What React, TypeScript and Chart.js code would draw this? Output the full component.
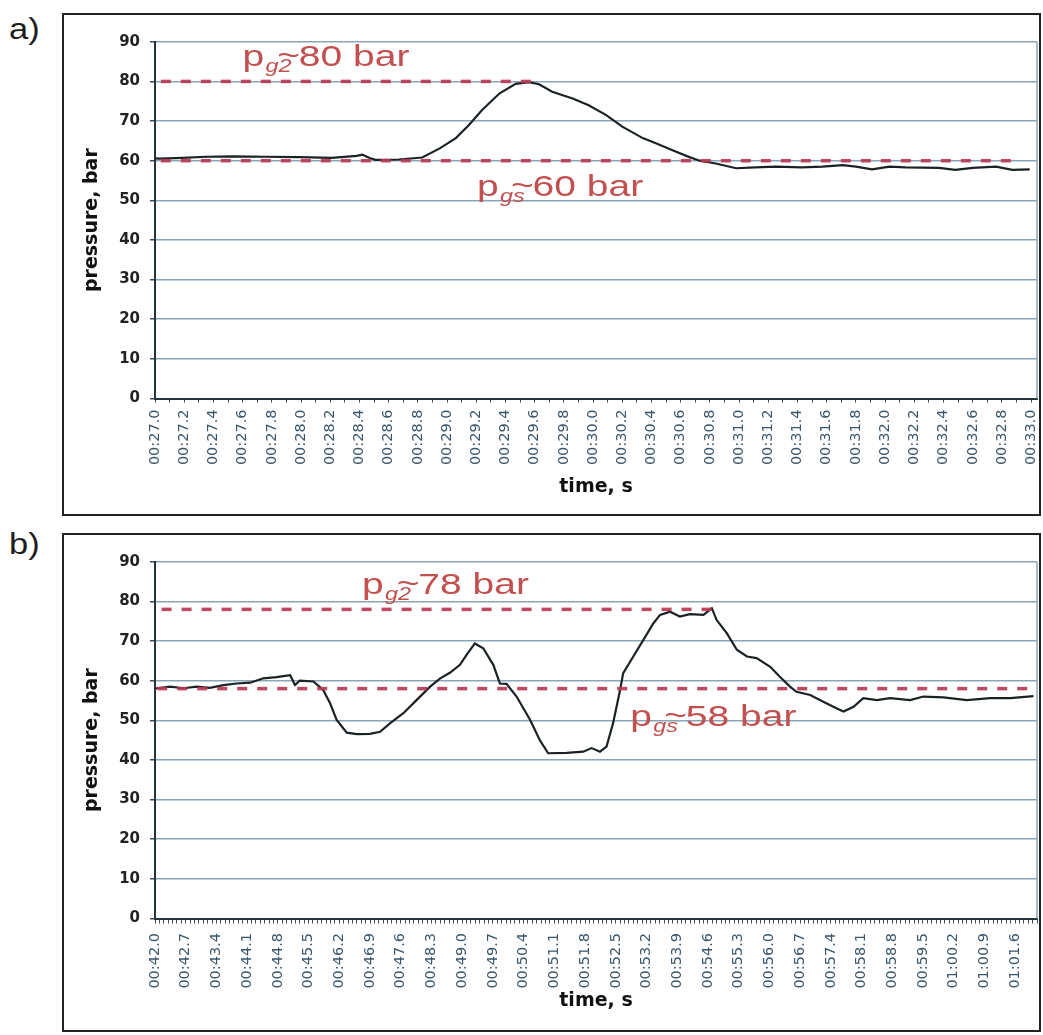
import React, { useEffect, useRef } from 'react';
import { Chart, registerables } from 'chart.js';

Chart.register(...registerables);

// ---------- Panel a) ----------
const TIME_A = [27.0, 27.03, 27.19, 27.35, 27.53, 27.76, 27.99, 28.21, 28.38, 28.42, 28.47, 28.51, 28.67, 28.83, 28.95, 29.06, 29.15, 29.24, 29.36, 29.47, 29.56, 29.63, 29.72, 29.86, 29.97, 30.09, 30.2, 30.34, 30.43, 30.54, 30.66, 30.73, 30.84, 30.98, 31.11, 31.25, 31.43, 31.57, 31.71, 31.8, 31.91, 32.03, 32.14, 32.37, 32.48, 32.6, 32.76, 32.87, 32.99];
const PRESSURE_A = [60.6, 60.5, 60.7, 61.0, 61.1, 61.0, 60.9, 60.7, 61.2, 61.5, 60.7, 60.2, 60.3, 60.8, 63.1, 65.7, 69.0, 72.8, 77.0, 79.4, 79.8, 79.3, 77.4, 75.7, 74.0, 71.5, 68.6, 65.7, 64.4, 62.7, 60.9, 60.0, 59.3, 58.1, 58.3, 58.5, 58.3, 58.5, 58.9, 58.5, 57.8, 58.5, 58.3, 58.2, 57.7, 58.2, 58.5, 57.7, 57.8];
const LABELS_A = ['00:27.0', '00:27.2', '00:27.4', '00:27.6', '00:27.8', '00:28.0', '00:28.2', '00:28.4', '00:28.6', '00:28.8', '00:29.0', '00:29.2', '00:29.4', '00:29.6', '00:29.8', '00:30.0', '00:30.2', '00:30.4', '00:30.6', '00:30.8', '00:31.0', '00:31.2', '00:31.4', '00:31.6', '00:31.8', '00:32.0', '00:32.2', '00:32.4', '00:32.6', '00:32.8', '00:33.0'];
const LEVELS_A = [80, 60];
const LEVEL_START_A = [27.04, 27.04];
const LEVEL_END_A = [29.6, 32.9];
const LEVEL_SUB_A = ['g2', 'gs'];
const LEVEL_TEXT_A = ['80 bar', '60 bar'];

// ---------- Panel b) ----------
const TIME_B = [42.0, 42.04, 42.34, 42.65, 42.95, 43.25, 43.56, 43.86, 44.17, 44.47, 44.77, 45.08, 45.19, 45.3, 45.61, 45.83, 45.99, 46.14, 46.37, 46.6, 46.9, 47.13, 47.36, 47.66, 47.96, 48.27, 48.5, 48.72, 48.95, 49.1, 49.29, 49.48, 49.71, 49.86, 50.01, 50.24, 50.55, 50.77, 50.96, 51.38, 51.76, 51.95, 52.14, 52.29, 52.44, 52.6, 52.67, 52.9, 53.13, 53.36, 53.51, 53.74, 53.96, 54.19, 54.5, 54.69, 54.8, 55.03, 55.26, 55.49, 55.71, 56.02, 56.24, 56.47, 56.62, 56.93, 57.23, 57.54, 57.69, 57.92, 58.14, 58.45, 58.75, 59.21, 59.51, 59.97, 60.5, 61.03, 61.49, 62.02];
const PRESSURE_B = [58.0, 58.1, 58.5, 58.1, 58.5, 58.2, 58.9, 59.3, 59.5, 60.6, 60.9, 61.4, 58.9, 60.0, 59.8, 57.7, 54.3, 50.1, 46.9, 46.5, 46.6, 47.1, 49.3, 51.8, 55.1, 58.5, 60.6, 62.0, 64.0, 66.5, 69.4, 68.2, 64.0, 59.3, 59.2, 56.0, 50.1, 45.0, 41.7, 41.8, 42.1, 43.0, 42.1, 43.4, 49.3, 57.7, 61.9, 66.1, 70.3, 74.5, 76.6, 77.4, 76.2, 76.8, 76.6, 78.3, 75.3, 72.0, 67.8, 66.1, 65.7, 63.5, 61.0, 58.5, 57.2, 56.4, 54.7, 53.0, 52.2, 53.4, 55.6, 55.1, 55.6, 55.1, 56.0, 55.8, 55.1, 55.6, 55.6, 56.1];
const LABELS_B = ['00:42.0', '00:42.7', '00:43.4', '00:44.1', '00:44.8', '00:45.5', '00:46.2', '00:46.9', '00:47.6', '00:48.3', '00:49.0', '00:49.7', '00:50.4', '00:51.1', '00:51.8', '00:52.5', '00:53.2', '00:53.9', '00:54.6', '00:55.3', '00:56.0', '00:56.7', '00:57.4', '00:58.1', '00:58.8', '00:59.5', '01:00.2', '01:00.9', '01:01.6'];
const LEVELS_B = [78, 58];
const LEVEL_START_B = [42.15, 42.05];
const LEVEL_END_B = [54.72, 62.0];
const LEVEL_SUB_B = ['g2', 'gs'];
const LEVEL_TEXT_B = ['78 bar', '58 bar'];

const Y_TICK_STEP = 10;
const Y_MIN = 0;
const Y_MAX = 90;

const parseTime = (s: string) => {
  const [m, sec] = s.split(':');
  return Math.round((Number(m) * 60 + Number(sec)) * 10) / 10;
};

const GRID = '#8aa5b8';
const AXIS = '#26343d';
const DASH = 'rgba(186,58,82,0.92)';
const ANNOT = '#c25050';
const FONT = "'DejaVu Sans', sans-serif";

type Annot = { x: number; y: number; sub: string; text: string };

function makeAnnotPlugin(items: Annot[]) {
  return {
    id: 'pAnnot',
    afterDatasetsDraw(chart: any) {
      const ctx = chart.ctx as CanvasRenderingContext2D;
      const xs = chart.scales.x;
      const ys = chart.scales.y;
      const main = "30px 'Liberation Sans', Arial, sans-serif";
      const subF = "italic 18px 'Liberation Sans', Arial, sans-serif";
      ctx.save();
      ctx.fillStyle = ANNOT;
      ctx.textBaseline = 'alphabetic';
      ctx.textAlign = 'left';
      for (const it of items) {
        const px = xs.getPixelForValue(it.x);
        const py = ys.getPixelForValue(it.y);
        ctx.save();
        ctx.translate(px, py);
        ctx.scale(1.3, 1);
        ctx.font = main;
        ctx.fillText('p', 0, 0);
        let cx = ctx.measureText('p').width + 1;
        ctx.font = subF;
        ctx.fillText(it.sub, cx, 6);
        const sw = ctx.measureText(it.sub).width;
        ctx.font = main;
        const tx = cx + sw * 0.45;
        ctx.fillText('~', tx, -1);
        cx = tx + ctx.measureText('~').width - 1;
        ctx.fillText(it.text, cx, 0);
        ctx.restore();
      }
      ctx.restore();
    },
  };
}

const borderPlugin = {
  id: 'plotBorder',
  beforeDatasetsDraw(chart: any) {
    const { ctx, chartArea } = chart;
    ctx.save();
    ctx.strokeStyle = GRID;
    ctx.lineWidth = 1.5;
    ctx.beginPath();
    ctx.moveTo(chartArea.right, chartArea.top);
    ctx.lineTo(chartArea.right, chartArea.bottom);
    ctx.stroke();
    ctx.restore();
  },
};

type PanelCfg = {
  left: number;
  top: number;
  w: number;
  h: number;
  times: number[];
  values: number[];
  labels: string[];
  levels: number[];
  levelStart: number[];
  levelEnd: number[];
  subs: string[];
  texts: string[];
  annotPos: { x: number; y: number }[];
  xMin: number;
  xMax: number;
  xHeight: number;
  tickPad: number;
  tickLen: number;
  titlePadBottom: number;
};

function Panel({ cfg }: { cfg: PanelCfg }) {
  const ref = useRef<HTMLCanvasElement | null>(null);
  useEffect(() => {
    if (!ref.current) return;
    const labelMap = new Map<number, string>();
    cfg.labels.forEach((l) => labelMap.set(Math.round(parseTime(l) * 10), l));
    const tickVals: number[] = [];
    for (let k = Math.round(cfg.xMin * 10); k <= Math.floor(cfg.xMax * 10 + 1e-6); k++) tickVals.push(k / 10);

    const datasets: any[] = [
      {
        data: cfg.times.map((t, i) => ({ x: t, y: cfg.values[i] })),
        borderColor: '#1b2226',
        borderWidth: 2.2,
        pointRadius: 0,
        tension: 0,
        order: 1,
      },
    ];
    cfg.levels.forEach((lv, i) => {
      datasets.push({
        data: [
          { x: cfg.levelStart[i], y: lv },
          { x: cfg.levelEnd[i], y: lv },
        ],
        borderColor: DASH,
        borderWidth: 3.5,
        borderDash: [10, 10],
        pointRadius: 0,
        order: 0,
      });
    });
    const annots: Annot[] = cfg.levels.map((_, i) => ({
      x: cfg.annotPos[i].x,
      y: cfg.annotPos[i].y,
      sub: cfg.subs[i],
      text: cfg.texts[i],
    }));

    const chart = new Chart(ref.current, {
      type: 'line',
      data: { datasets },
      plugins: [borderPlugin, makeAnnotPlugin(annots)],
      options: {
        responsive: false,
        animation: false,
        events: [],
        layout: { padding: { top: 26.8, right: 1, left: 0, bottom: 0 } },
        plugins: { legend: { display: false }, tooltip: { enabled: false } },
        scales: {
          x: {
            type: 'linear',
            min: cfg.xMin,
            max: cfg.xMax,
            bounds: 'data',
            afterBuildTicks: (s: any) => {
              s.ticks = tickVals.map((v) => ({ value: v }));
            },
            afterFit: (s: any) => {
              s.height = cfg.xHeight;
              s.paddingLeft = 0;
              s.paddingRight = 0;
            },
            ticks: {
              autoSkip: false,
              minRotation: 90,
              maxRotation: 90,
              padding: cfg.tickPad,
              color: '#3a566a',
              font: { family: FONT, size: 14.5 },
              callback: (v: any) => labelMap.get(Math.round(Number(v) * 10)) ?? '',
            },
            grid: {
              drawOnChartArea: false,
              drawTicks: true,
              tickLength: cfg.tickLen,
              tickColor: '#3b4a55',
              tickWidth: 1,
            },
            border: { display: true, color: AXIS, width: 2 },
            title: {
              display: true,
              text: 'time, s',
              color: '#111',
              font: { family: FONT, weight: 'bold', size: 19 },
              padding: { top: 0, bottom: cfg.titlePadBottom },
            },
          },
          y: {
            min: Y_MIN,
            max: Y_MAX,
            afterFit: (s: any) => {
              s.width = 91;
              s.paddingTop = 0;
              s.paddingBottom = 0;
            },
            ticks: {
              stepSize: Y_TICK_STEP,
              padding: 10,
              color: '#222',
              font: { family: FONT, weight: 'bold', size: 15 },
            },
            grid: {
              color: GRID,
              lineWidth: 1.5,
              drawTicks: true,
              tickLength: 5,
              tickColor: '#3b4a55',
            },
            border: { display: true, color: AXIS, width: 2 },
            title: {
              display: true,
              text: 'pressure, bar',
              color: '#111',
              font: { family: FONT, weight: 'bold', size: 19 },
              padding: { top: 17, bottom: 0 },
            },
          },
        },
      } as any,
    });
    return () => chart.destroy();
  }, [cfg]);
  return (
    <canvas
      ref={ref}
      width={cfg.w}
      height={cfg.h}
      style={{ position: 'absolute', left: cfg.left, top: cfg.top, width: cfg.w, height: cfg.h }}
    />
  );
}

const CFG_A: PanelCfg = {
  left: 64,
  top: 15,
  w: 974,
  h: 498,
  times: TIME_A,
  values: PRESSURE_A,
  labels: LABELS_A,
  levels: LEVELS_A,
  levelStart: LEVEL_START_A,
  levelEnd: LEVEL_END_A,
  subs: LEVEL_SUB_A,
  texts: LEVEL_TEXT_A,
  annotPos: [
    { x: 27.6, y: 83.9 },
    { x: 29.205, y: 51.1 },
  ],
  xMin: 27.0,
  xMax: 33.04,
  xHeight: 114.5,
  tickPad: 7,
  tickLen: 4,
  titlePadBottom: 15,
};

const CFG_B: PanelCfg = {
  left: 64,
  top: 535,
  w: 974,
  h: 495,
  times: TIME_B,
  values: PRESSURE_B,
  labels: LABELS_B,
  levels: LEVELS_B,
  levelStart: LEVEL_START_B,
  levelEnd: LEVEL_END_B,
  subs: LEVEL_SUB_B,
  texts: LEVEL_TEXT_B,
  annotPos: [
    { x: 46.72, y: 81.9 },
    { x: 52.83, y: 48.6 },
  ],
  xMin: 42.0,
  xMax: 62.1,
  xHeight: 111.5,
  tickPad: 9.5,
  tickLen: 5,
  titlePadBottom: 17.6,
};

const frameStyle = (top: number, height: number): React.CSSProperties => ({
  position: 'absolute',
  left: 62,
  top,
  width: 979,
  height,
  border: '2px solid #1f2326',
  boxSizing: 'border-box',
});

const letterStyle = (top: number): React.CSSProperties => ({
  position: 'absolute',
  left: 9,
  top,
  font: "30px 'Liberation Sans', Arial, sans-serif",
  lineHeight: '34px',
  color: '#1e1e1e',
  transform: 'scaleX(1.15)',
  transformOrigin: 'left top',
});

export default function App() {
  return (
    <div style={{ position: 'absolute', left: 0, top: 0, width: 1043, height: 1035, background: '#fff', overflow: 'hidden' }}>
      <div style={letterStyle(12)}>a)</div>
      <div style={frameStyle(13, 503)} />
      <Panel cfg={CFG_A} />
      <div style={letterStyle(527)}>b)</div>
      <div style={frameStyle(533, 499)} />
      <Panel cfg={CFG_B} />
    </div>
  );
}
